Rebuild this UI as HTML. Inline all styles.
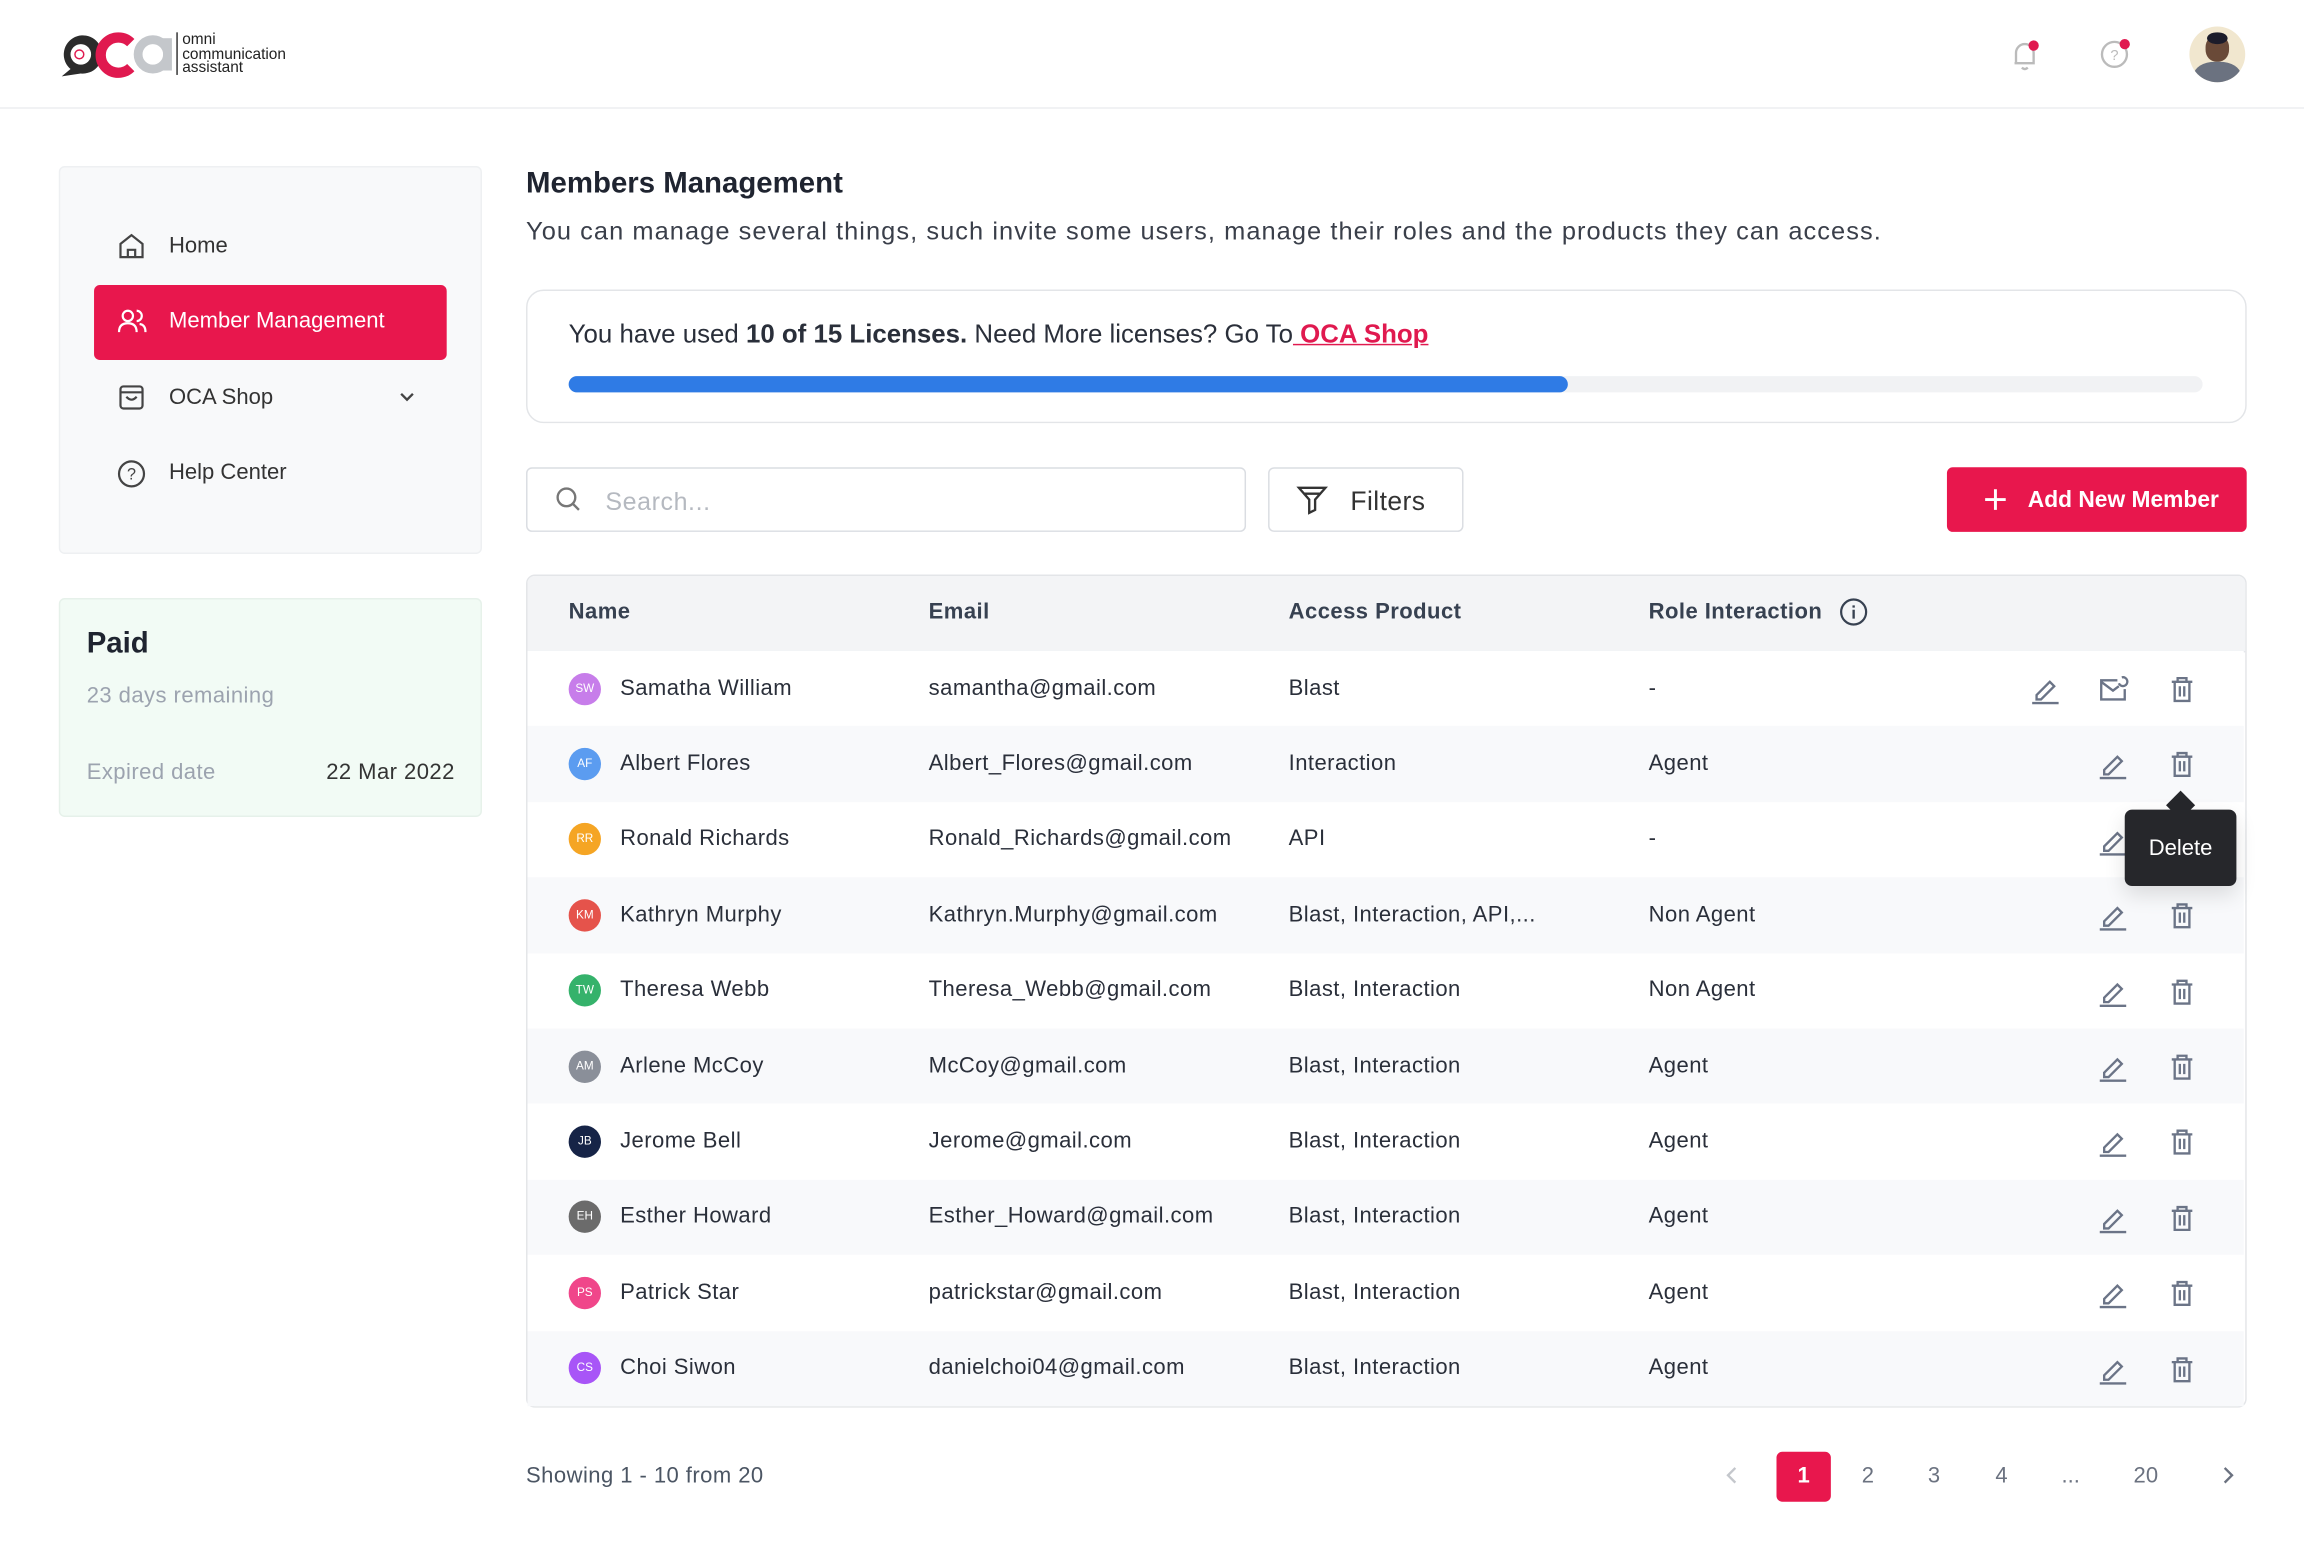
<!DOCTYPE html>
<html><head><meta charset="utf-8"><style>
*{box-sizing:border-box;margin:0;padding:0}
html,body{width:2304px;height:1566px;overflow:hidden;background:#fff}
#w{position:absolute;left:0;top:0;width:1568px;height:1066px;transform:scale(1.46939);transform-origin:0 0;font-family:"Liberation Sans",sans-serif;color:#1f2430}
.a{position:absolute}
.t{position:absolute;white-space:nowrap;font-size:15px;line-height:18px}
.row{position:absolute;left:359px;width:1168px;height:51.4px}
.av{position:absolute;left:28px;width:22px;height:22px;border-radius:50%;color:#fff;font-size:8px;line-height:22px;text-align:center;top:14.7px}
.c{position:absolute;top:16.7px;font-size:15px;line-height:18px;color:#2a2f3a;white-space:nowrap;letter-spacing:.3px}
.ic{position:absolute;top:15px;width:22px;height:22px}
</style></head><body><div id="w">
<div class="a" style="left:0;top:73px;width:1568px;height:1px;background:#eceef1"></div>
<svg class="a" style="left:38px;top:20px" width="82" height="34" viewBox="0 0 82 34">
<path d="M4 32 L10 27 A13 13 0 1 1 17 30 Z" fill="#2b2b2b"/><circle cx="17" cy="17" r="7" fill="#fff"/><circle cx="16" cy="17" r="3" fill="none" stroke="#e0194f"/>
<path d="M51 9 A12 12 0 1 0 51 26" stroke="#e0194f" stroke-width="7" fill="none"/>
<circle cx="66" cy="17" r="10" stroke="#c4c7cb" stroke-width="6" fill="none"/><rect x="73" y="6" width="6" height="22" fill="#c4c7cb"/>
</svg>
<div class="a" style="left:120px;top:22px;width:1px;height:29px;background:#333"></div>
<div class="t" style="left:124px;top:23px;font-size:10.5px;line-height:9.5px;color:#222">omni<br>communication<br>assistant</div>
<svg class="a" style="left:1366px;top:25px" width="26" height="26" viewBox="0 0 26 26"><path d="M6 18 V11 A6 6 0 0 1 18 11 V18 H5 Z M10 21 Q12 23 14 21" stroke="#bbb" stroke-width="1.6" fill="none"/><circle cx="18" cy="6" r="3.5" fill="#e0194f"/></svg>
<svg class="a" style="left:1427px;top:25px" width="26" height="26" viewBox="0 0 26 26"><circle cx="12" cy="12" r="8.5" stroke="#bbb" stroke-width="1.6" fill="none"/><text x="12" y="16" font-size="10" text-anchor="middle" fill="#bbb" font-family="Liberation Sans">?</text><circle cx="19" cy="5" r="3.5" fill="#e0194f"/></svg>
<div class="a" style="left:1490px;top:18px;width:38px;height:38px;border-radius:50%;background:#f1e7cf;overflow:hidden"><div class="a" style="left:11px;top:6px;width:16px;height:18px;border-radius:45%;background:#6a4a38"></div><div class="a" style="left:12px;top:4px;width:14px;height:8px;border-radius:50%;background:#1c1c2a"></div><div class="a" style="left:3px;top:24px;width:32px;height:20px;border-radius:45%;background:#6b7280"></div></div>
<div class="a" style="left:40px;top:113px;width:288px;height:264px;background:#f8f9fa;border:1px solid #eef0f2;border-radius:4px"></div>
<svg class="a" style="left:79px;top:157px" width="21" height="21" viewBox="0 0 21 21"><path d="M3 9 L10.5 3 L18 9 V18 H3 Z M8 18 V13 H13 V18" stroke="#444" stroke-width="1.5" fill="none"/></svg>
<div class="t" style="left:115px;top:159px;color:#333">Home</div>
<div class="a" style="left:64px;top:194px;width:240px;height:51px;background:#e8174d;border-radius:4px"></div>
<svg class="a" style="left:79px;top:208px" width="22" height="22" viewBox="0 0 22 22"><circle cx="8" cy="7" r="3.5" stroke="#fff" stroke-width="1.5" fill="none"/><path d="M2 18 Q2 12 8 12 Q14 12 14 18 M14 3.5 A3.5 3.5 0 0 1 14 10.5 M16 12.5 Q20 13 20 18" stroke="#fff" stroke-width="1.5" fill="none"/></svg>
<div class="t" style="left:115px;top:210px;color:#fff">Member Management</div>
<svg class="a" style="left:79px;top:260px" width="21" height="21" viewBox="0 0 21 21"><rect x="3" y="3" width="15" height="15" rx="2" stroke="#444" stroke-width="1.5" fill="none"/><path d="M3 7 H18 M7 10 Q10.5 14 14 10" stroke="#444" stroke-width="1.5" fill="none"/></svg>
<div class="t" style="left:115px;top:262px;color:#333">OCA Shop</div>
<svg class="a" style="left:271px;top:265px" width="12" height="10" viewBox="0 0 12 10"><path d="M2 3 L6 7 L10 3" stroke="#444" stroke-width="1.6" fill="none"/></svg>
<svg class="a" style="left:79px;top:312px" width="21" height="21" viewBox="0 0 21 21"><circle cx="10.5" cy="10.5" r="8.5" stroke="#444" stroke-width="1.5" fill="none"/><text x="10.5" y="14.5" font-size="11" text-anchor="middle" fill="#444" font-family="Liberation Sans">?</text></svg>
<div class="t" style="left:115px;top:313px;color:#333">Help Center</div>
<div class="a" style="left:40px;top:407px;width:288px;height:149px;background:#f2fbf5;border:1px solid #e6f1ea;border-radius:4px"></div>
<div class="t" style="left:59px;top:427px;font-size:20px;line-height:22px;font-weight:bold;color:#1f2430">Paid</div>
<div class="t" style="left:59px;top:465px;color:#9ca3af;letter-spacing:.3px">23 days remaining</div>
<div class="t" style="left:59px;top:517px;color:#9ca3af;letter-spacing:.3px">Expired date</div>
<div class="t" style="left:222px;top:517px;color:#333;letter-spacing:.3px">22 Mar 2022</div>
<div class="t" style="left:358px;top:114px;font-size:20px;line-height:22px;font-weight:bold">Members Management</div>
<div class="t" style="left:358px;top:147px;font-size:17.3px;line-height:20px;color:#3a3f4a;letter-spacing:.72px">You can manage several things, such invite some users, manage their roles and the products they can access.</div>
<div class="a" style="left:358px;top:197px;width:1171px;height:91px;border:1px solid #e3e5e8;border-radius:12px"></div>
<div class="t" style="left:387px;top:217px;font-size:17.6px;line-height:21px;color:#2a2f3a">You have used <b>10 of 15 Licenses.</b> Need More licenses? Go To<span style="color:#e0194f;text-decoration:underline;font-weight:bold"> OCA Shop</span></div>
<div class="a" style="left:387px;top:256px;width:1112px;height:11px;background:#f1f2f4;border-radius:6px"></div>
<div class="a" style="left:387px;top:256px;width:680px;height:11px;background:#2f7be5;border-radius:6px"></div>
<div class="a" style="left:358px;top:318px;width:490px;height:44px;border:1.5px solid #dadde2;border-radius:4px"></div>
<svg class="a" style="left:377px;top:330px" width="20" height="20" viewBox="0 0 20 20"><circle cx="8.5" cy="8.5" r="6" stroke="#777" stroke-width="1.6" fill="none"/><path d="M13 13 L17 17" stroke="#777" stroke-width="1.6"/></svg>
<div class="t" style="left:412px;top:332px;font-size:17px;line-height:20px;color:#b5b9c0;letter-spacing:.4px">Search...</div>
<div class="a" style="left:863px;top:318px;width:133px;height:44px;border:1.5px solid #dadde2;border-radius:4px"></div>
<svg class="a" style="left:882px;top:329px" width="22" height="22" viewBox="0 0 22 22"><path d="M2 3 H20 L13 11 V18 L9 20 V11 Z M5 7 H17" stroke="#333" stroke-width="1.6" fill="none"/></svg>
<div class="t" style="left:919px;top:331px;font-size:18px;line-height:21px;color:#333;letter-spacing:.3px">Filters</div>
<div class="a" style="left:1325px;top:318px;width:204px;height:44px;background:#e8174d;border-radius:4px"></div>
<svg class="a" style="left:1349px;top:331px" width="18" height="18" viewBox="0 0 18 18"><path d="M9 2 V16 M2 9 H16" stroke="#fff" stroke-width="2"/></svg>
<div class="t" style="left:1380px;top:332px;font-size:15.5px;color:#fff;font-weight:bold">Add New Member</div>
<div class="a" style="left:358px;top:391px;width:1171px;height:567px;border:1px solid #e3e5e8;border-radius:6px;overflow:hidden">
<div class="a" style="left:0;top:0;width:1171px;height:52px;background:#f3f4f6;border-bottom:1px solid #e5e7eb"></div>
</div>
<div class="t" style="left:387px;top:408px;font-weight:bold;color:#374151;letter-spacing:.3px">Name</div>
<div class="t" style="left:632px;top:408px;font-weight:bold;color:#374151;letter-spacing:.3px">Email</div>
<div class="t" style="left:877px;top:408px;font-weight:bold;color:#374151;letter-spacing:.3px">Access Product</div>
<div class="t" style="left:1122px;top:408px;font-weight:bold;color:#374151;letter-spacing:.3px">Role Interaction</div>
<svg class="a" style="left:1251px;top:406px" width="21" height="21" viewBox="0 0 21 21"><circle cx="10.5" cy="10.5" r="8.5" stroke="#374151" stroke-width="1.5" fill="none"/><path d="M10.5 9 V15 M10.5 6 V7.5" stroke="#374151" stroke-width="1.6"/></svg>
<div id="rows"></div>
<div class="t" style="left:358px;top:996px;color:#4b5563;letter-spacing:.3px">Showing 1 - 10 from 20</div>
<svg class="a" style="left:1172px;top:997px" width="14" height="14" viewBox="0 0 14 14"><path d="M9 2 L4 7 L9 12" stroke="#c4c7cc" stroke-width="1.6" fill="none"/></svg>
<div class="a" style="left:1209px;top:988px;width:37px;height:34px;background:#e8174d;border-radius:4px;color:#fff;font-size:15px;font-weight:bold;text-align:center;line-height:34px">1</div>
<div class="t" style="left:1267px;top:996px;color:#6b7280">2</div>
<div class="t" style="left:1312px;top:996px;color:#6b7280">3</div>
<div class="t" style="left:1358px;top:996px;color:#6b7280">4</div>
<div class="t" style="left:1403px;top:996px;color:#6b7280">...</div>
<div class="t" style="left:1452px;top:996px;color:#6b7280">20</div>
<svg class="a" style="left:1509px;top:997px" width="14" height="14" viewBox="0 0 14 14"><path d="M5 2 L10 7 L5 12" stroke="#6b7280" stroke-width="1.6" fill="none"/></svg>
<script>
var d=[["SW","#c77dea","Samatha William","samantha@gmail.com","Blast","-"],
["AF","#5b9cf0","Albert Flores","Albert_Flores@gmail.com","Interaction","Agent"],
["RR","#f5a524","Ronald Richards","Ronald_Richards@gmail.com","API","-"],
["KM","#e5534b","Kathryn Murphy","Kathryn.Murphy@gmail.com","Blast, Interaction, API,...","Non Agent"],
["TW","#35b26b","Theresa Webb","Theresa_Webb@gmail.com","Blast, Interaction","Non Agent"],
["AM","#8a8f99","Arlene McCoy","McCoy@gmail.com","Blast, Interaction","Agent"],
["JB","#162447","Jerome Bell","Jerome@gmail.com","Blast, Interaction","Agent"],
["EH","#6b6b6b","Esther Howard","Esther_Howard@gmail.com","Blast, Interaction","Agent"],
["PS","#f0468a","Patrick Star","patrickstar@gmail.com","Blast, Interaction","Agent"],
["CS","#a855f7","Choi Siwon","danielchoi04@gmail.com","Blast, Interaction","Agent"]];
var pen='<svg viewBox="0 0 22 22" width="22" height="22"><path d="M5 15 L14 6 L17 9 L8 18 H5 Z" stroke="#6b7487" stroke-width="1.6" fill="none"/><path d="M2 20.5 H20" stroke="#6b7487" stroke-width="1.6"/></svg>';
var tr='<svg viewBox="0 0 22 22" width="22" height="22"><path d="M4 6 H18 M8 6 V3.5 H14 V6 M6 6 V19 H16 V6 M9.5 9 V16 M12.5 9 V16" stroke="#6b7487" stroke-width="1.6" fill="none"/></svg>';
var ml='<svg viewBox="0 0 22 22" width="22" height="22"><path d="M14 5 H3 V18 H19 V11 M3 6 L11 12 L15 9 M17 3 A3 3 0 1 1 15 7" stroke="#6b7487" stroke-width="1.6" fill="none"/></svg>';
var h='';
d.forEach(function(r,i){var y=443+i*51.4;
h+='<div class="row" style="top:'+y+'px;background:'+(i%2?'#f8f9fb':'#fff')+'">'+
'<div class="av" style="background:'+r[1]+'">'+r[0]+'</div>'+
'<div class="c" style="left:63px">'+r[2]+'</div><div class="c" style="left:273px">'+r[3]+'</div><div class="c" style="left:518px">'+r[4]+'</div><div class="c" style="left:763px">'+r[5]+'</div>'+
(i==0?'<div class="ic" style="left:1022px">'+pen+'</div><div class="ic" style="left:1068px">'+ml+'</div>':'<div class="ic" style="left:1068px">'+pen+'</div>')+
'<div class="ic" style="left:1115px">'+tr+'</div></div>';});
document.getElementById('rows').innerHTML=h;
</script>
<div class="a" style="left:1477px;top:541px;width:14px;height:14px;background:#26272b;transform:rotate(45deg)"></div>
<div class="a" style="left:1446px;top:551px;width:76px;height:52px;background:#26272b;border-radius:5px;box-shadow:0 6px 14px rgba(0,0,0,.12);color:#fff;font-size:15px;line-height:54px;text-align:center">Delete</div>
</div></body></html>
